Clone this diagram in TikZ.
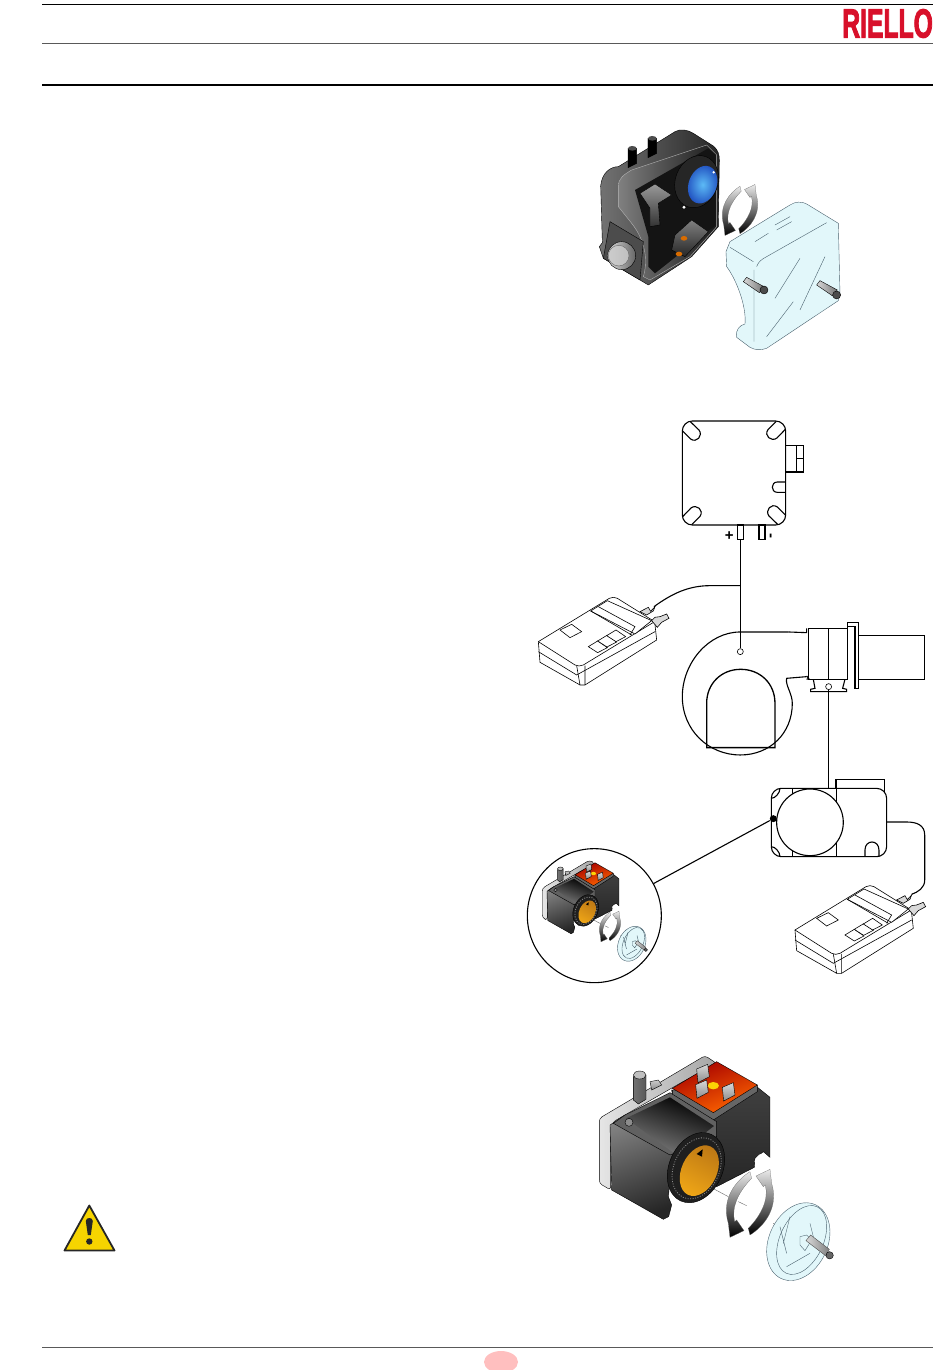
\documentclass[tikz,border=0pt]{standalone}
\usepackage{fontspec}
\setmainfont{Liberation Sans}
\newfontfamily\logofont[FakeBold=3,UprightFont={* Bold}]{Liberation Sans}
\usepackage{color}
\definecolor{logored}{HTML}{D8102A}
\definecolor{capblue}{HTML}{E2F7FA}
\definecolor{amber}{HTML}{EC961A}
\definecolor{signyellow}{HTML}{F6D400}
\definecolor{lenslight}{HTML}{5CBAF6}
\definecolor{lensdark}{HTML}{2050C0}
\tikzset{
    lineart/.style={line width=1.1pt, black},
    capedge/.style={line width=.4pt, black!65!cyan},
    rule/.style={line width=.9pt, black!65},
    turnarrows/.pic={
        \begin{scope}[x=.3333pt, y=-.3333pt]
            \foreach \ang in {0,180}
                \shade[rotate=\ang, top color=black!8, middle color=black!70, bottom color=black, draw=black!60, line width=.2pt]
                    (0,-95) .. controls (-40,-70) and (-88,-15) .. (-65,60) -- (-60,102) -- (-18,82) -- (-40,50) -- (-46,55)
                    .. controls (-58,10) and (-30,-40) .. (5,-75) -- cycle;
        \end{scope}
    },
    manometer/.pic={
        \begin{scope}[x=.3333pt, y=-.3333pt, line width=.6pt]
            \draw[fill=white] (55,695) -- (268,565) .. controls (275,561) and (285,561) .. (292,565) -- (404,635)
                -- (410,690) -- (195,825) -- (180,825) -- (60,757) -- cycle;
            \draw (55,695) -- (165,765) .. controls (172,769) and (182,769) .. (190,765) -- (404,635);
            \draw (55,725) -- (170,795) -- (405,665);
            \draw (170,767) -- (180,825) (195,767) -- (195,825);
            \draw[fill=white] (212,603) -- (262,572) -- (395,632) -- (345,672) -- cycle;
            \draw (212,603) -- (335,675) (235,590) -- (345,650) -- (330,675);
            \foreach \bx/\by in {0/0,28/-17,55/-33}
                \draw[shift={(\bx,\by)}, fill=white] (205,710) -- (233,693) -- (262,713) -- (233,728) -- cycle;
            \draw[fill=white] (120,660) -- (155,643) -- (185,665) -- (150,683) -- cycle;
            \draw[fill=black!15] (360,605) -- (385,592) -- (392,604) -- (405,590) -- (400,603) -- (380,615) -- cycle;
            \draw[fill=black!15] (395,632) -- (405,622) -- (420,620) -- (440,612) -- (447,625) -- (425,637) -- (412,652) -- cycle;
        \end{scope}
    },
    solenoid/.pic={
        \begin{scope}[x=.3333pt, y=-.3333pt, line width=.4pt]
            % back plate
            \shade[left color=black!10, right color=black!35, draw=black, rounded corners=3pt] (88,235) -- (405,47) -- (440,70) -- (330,130)
                -- (130,245) -- (122,265) -- (122,450) -- (88,430) -- cycle;
            \shade[top color=black!20, bottom color=black!45, draw=black] (240,125) -- (265,120) -- (275,135) -- (245,150) -- cycle;
            % stud
            \shade[left color=black!55, middle color=black!5, right color=black!65, draw=black] (190,110) -- (190,180) -- (205,192) -- (228,178) -- (228,105) -- cycle;
            \draw[fill=black!25] (209,105) ellipse [x radius=19, y radius=12];
            % right block
            \shade[top color=black!75, bottom color=black!85, draw=black] (305,150) -- (430,225) -- (560,140) -- (600,172) -- (600,352)
                -- (580,335) -- (555,355) -- (553,382) -- (440,440) -- (330,300) -- cycle;
            % coil top
            \fill[black!60, draw=black] (307,150) -- (307,165) -- (430,240) -- (562,155) -- (562,135) -- cycle;
            \shade[left color=red!65!black, right color=orange!80!red, shading angle=20, draw=black] (307,145) -- (440,65) -- (562,135) -- (430,218) -- cycle;
            \fill[yellow!70!orange] (430,137) ellipse [x radius=17, y radius=11];
            \foreach \tx/\ty in {398/95,395/142,475/150}
                \shade[shift={(\tx,\ty)}, top color=black!15, bottom color=black!45, draw=black] (-18,-8) -- (15,-22) -- (20,15) -- (-14,33) -- cycle;
            % front block
            \shade[left color=black!50, right color=black!85, draw=black, shading angle=20] (120,255) -- (165,225) -- (310,330) -- (295,470)
                -- (305,495) -- (296,530) -- (280,538) -- (125,450) -- cycle;
            % opening and cylinder
            \fill[black!62, draw=black] (130,250) -- (165,225) -- (300,158) -- (440,245) -- (440,290) -- (300,345) -- cycle;
            \shade[left color=black, middle color=black!85, right color=black!50, shading angle=-20] (168,235) -- (300,172) -- (432,258) -- (320,345) -- cycle;
            \fill[black!45, draw=black] (177,247) circle [radius=12];
            % dial
            \fill[black!88, draw=black, rotate around={-25:(378,383)}] (378,383) ellipse [x radius=80, y radius=110];
            \draw[black!45, line width=.8pt, dash pattern=on 1pt off 1.5pt, rotate around={-25:(380,385)}] (380,385) ellipse [x radius=68, y radius=96];
            \shade[left color=amber!80!black, middle color=amber, right color=amber!85!yellow, shading angle=-30, rotate around={-25:(388,392)}] (388,392) ellipse [x radius=53, y radius=80];
            \fill (380,342) -- (398,328) -- (396,350) -- cycle;
            % bottom notch
            \fill[white] (553,365) .. controls (560,345) and (575,335) .. (588,345) -- (585,360) -- cycle;
            \pic[transform shape] at (540,490) {turnarrows};
            % cap
            \draw[black!60] (432,447) -- (475,470) (505,485) -- (530,497) (610,550) -- (690,600);
            \draw[capedge, fill=capblue, rotate around={-25:(685,605)}] (685,605) ellipse [x radius=88, y radius=122];
            \draw[capedge, rotate around={-25:(695,600)}] (695,600) ellipse [x radius=65, y radius=110];
            \draw[capedge] (630,560) -- (650,640) (660,530) -- (640,610) (720,550) -- (735,610) (650,680) -- (720,640);
            \draw[capedge, fill=capblue] (690,590) -- (710,585) -- (725,600) -- (705,632) -- (690,615) -- cycle;
            \shade[left color=black!15, right color=black!50, draw=black!70] (708,602) -- (722,585) -- (778,628) -- (768,648) -- cycle;
            \fill[black!60, draw=black] (779,646) circle [radius=11];
        \end{scope}
    }
}
\begin{document}
\begin{tikzpicture}[x=1pt, y=-1pt]
    \useasboundingbox (0,0) rectangle (950,1370);
    % page rules
    \draw[line width=.9pt, black] (42,4) -- (933,4);
    \draw[rule] (42,43) -- (933,43);
    \draw[line width=1.6pt, black] (42,85) -- (933,85);
    \draw[rule] (42,1347) -- (933,1347);
    \fill[red!25] (501,1362) ellipse [x radius=17, y radius=11];
    \node[anchor=east, inner sep=0pt, text=logored, xscale=.61, transform shape, font=\fontsize{40.5}{40}\selectfont\logofont] (logo) at (933,23.5) {RIELLO};

    % warning sign
    \draw[fill=signyellow, draw=black!85, line width=1.8pt, line join=round] (89.3,1205.5) -- (64.5,1250.5) -- (114.5,1250.5) -- cycle;
    \fill[black!85] (85.8,1221) .. controls (85.8,1217) and (92.8,1217) .. (92.8,1221) -- (90.8,1235) -- (87.8,1235) -- cycle;
    \fill[black!85] (89.3,1241.5) circle [radius=3.2];

    % pressure switch, photo view
    \begin{scope}[shift={(560,110)}, x=.3333pt, y=-.3333pt, line width=.4pt]
        \shade[left color=black!55, middle color=black!80, right color=black!85, draw=black] (122,228) .. controls (125,190) and (150,170) .. (175,170) -- (345,65)
            .. controls (360,55) and (385,60) .. (400,70) -- (460,108) .. controls (475,120) and (478,135) .. (478,150) -- (475,350)
            -- (395,440) -- (265,525) -- (130,445) -- (118,410) -- (127,398) -- cycle;
        \shade[left color=black!50, right color=black!90, draw=black!30] (175,230) .. controls (175,205) and (190,195) .. (215,180) -- (440,105)
            -- (470,135) -- (470,350) -- (390,440) -- (270,510) -- (250,500) .. controls (265,450) and (255,390) .. (215,340) -- (175,290) -- cycle;
        \fill[black!92] (225,240) -- (445,115) -- (468,135) -- (468,345) -- (285,490) -- (265,470) -- (265,380) -- cycle;
        \fill[black!70, draw=black] (150,335) -- (250,395) -- (240,510) -- (130,445) -- cycle;
        \foreach \px/\py in {217/115,277/85}
            \shade[left color=black, middle color=black!55, right color=black, draw=black] (\px-13,\py) -- (\px-13,\py+58) -- (\px+13,\py+45) -- (\px+13,\py) -- cycle;
        \foreach \px/\py in {217/115,277/85}
            \fill[black!70] (\px,\py) ellipse [x radius=13, y radius=7];
        \draw[fill=black!85, rotate around={-20:(410,215)}] (410,215) ellipse [x radius=64, y radius=80];
        \shade[inner color=lenslight, outer color=lensdark, rotate around={-20:(428,224)}] (428,224) ellipse [x radius=42, y radius=58];
        \fill[white] (461,187) circle [radius=4] (372,292) circle [radius=5];
        \shade[top color=black!40, bottom color=black!80, draw=black] (240,250) -- (285,222) -- (335,255) -- (295,280) -- (300,345) -- (270,350) -- (270,295) -- cycle;
        \shade[top color=black!50, bottom color=black!85, draw=black] (345,375) -- (395,330) -- (445,365) -- (375,440) -- (335,420) -- cycle;
        \foreach \px/\py in {372/385,357/432}
            \fill[orange!85!black] (\px,\py) ellipse [x radius=10, y radius=7];
        \shade[left color=black!15, middle color=black!30, right color=black!60, draw=black] (185,437) circle [radius=42];
        \shade[left color=black!20, middle color=white, right color=black!25, draw=black!60] (176,437) circle [radius=31];
        \pic at (540,300) [scale=.75] {turnarrows};
        \draw[capedge, fill=capblue] (510,395) -- (690,285) .. controls (705,275) and (725,272) .. (745,285) -- (835,340) -- (840,550)
            -- (835,572) -- (620,715) .. controls (600,722) and (585,720) .. (570,712) -- (530,682) .. controls (525,660) and (540,645) .. (555,642)
            .. controls (560,590) and (530,510) .. (500,470) -- (498,425) -- cycle;
        \draw[capedge] (590,470) .. controls (595,455) and (605,448) .. (620,440) -- (800,338) (582,480) -- (582,695) (510,412) -- (580,455);
        \draw[capedge] (585,395) -- (625,370) (645,345) -- (690,320) (650,360) -- (695,335) (645,565) -- (720,445) (720,600) -- (795,440) (620,680) -- (700,575);
        \foreach \sx/\sy in {550/510,770/520}
            \shade[shift={(\sx,\sy)}, left color=black!15, right color=black!55, draw=black] (0,5) -- (10,-8) -- (62,20) -- (48,38) -- cycle;
        \foreach \sx/\sy in {612/540,830/555}
            \fill[black!70, draw=black] (\sx,\sy) circle [radius=12];
    \end{scope}

    % pressure switch, plan view
    \begin{scope}[shift={(520,410)}, x=.3333pt, y=-.3333pt, lineart]
        \coordinate (swcentre) at (642,189);
        \draw[rounded corners=10pt] (487,33) rectangle (797,345);
        \foreach \ang in {0,90,180,270}
            \draw[rotate around={\ang:(swcentre)}] (510,34) -- (537,60) .. controls (550,77) and (530,100) .. (512,87) -- (487,62);
        \draw (797,106) -- (850,106) -- (850,186) -- (797,186) (830,106) -- (830,186) (830,145) -- (850,145);
        \draw (797,216) -- (772,216) .. controls (752,216) and (752,247) .. (772,247) -- (797,247);
        \draw (652,345) rectangle (671,388) (717,345) rectangle (735,388);
        \coordinate (plusport) at (661,388);
        \coordinate (tee) at (661,527);
        \coordinate (fantap) at (661,725);
        \node[font=\bfseries\fontsize{15}{15}\selectfont, inner sep=0pt] (pluslabel) at (628,378) {+};
        \node[font=\bfseries\fontsize{15}{15}\selectfont, inner sep=0pt, rotate=90] (minuslabel) at (757,379) {-};

        % fan housing
        \draw (806,666) -- (661,666) .. controls (565,666) and (487,760) .. (487,860)
            .. controls (487,960) and (565,1035) .. (661,1035) .. controls (750,1035) and (817,970) .. (817,880)
            .. controls (817,850) and (795,825) .. (800,805) -- (860,800);
        \draw (860,655) -- (860,668) -- (806,666);
        \draw[line width=1.3pt] (560,1013) -- (560,880) .. controls (560,820) and (605,778) .. (662,778) .. controls (720,778) and (765,820) .. (765,880) -- (765,1013) -- cycle;
        \node[circle, draw, line width=.6pt, minimum size=6pt, inner sep=0pt] (fanport) at (fantap) {};
        \draw (plusport) -- (fanport);

        % burner head
        \draw (866,655) rectangle (983,808) (925,655) -- (925,808);
        \draw (860,798) -- (866,805) -- (860,808);
        \draw (983,655) -- (983,637) -- (1016,637) -- (1016,835) -- (1005,835) -- (1005,650) -- (983,650);
        \draw (1016,676) -- (1213,676) -- (1213,808) -- (1016,808);
        \draw (880,808) -- (885,835) -- (872,838) -- (872,845) -- (980,845) -- (980,838) -- (968,835) -- (975,808);
        \node[circle, draw, line width=.6pt, minimum size=6pt, inner sep=0pt] (headport) at (926,830) {};

        \pic at (0,0) {manometer};
        \coordinate (nipplea) at (402,590);
    \end{scope}
    \draw[lineart] (tee) -- ++(-30,0) .. controls ++(-22,0) and ++(18,-13) .. (nipplea);

    % gas pressure switch, plan view
    \begin{scope}[shift={(520,760)}, x=.3333pt, y=-.3333pt, lineart]
        \draw[rounded corners=10pt] (754,85) rectangle (1100,290);
        \draw (817,85) -- (817,290) (950,85) -- (950,290);
        \draw (754,115) .. controls (765,115) and (780,100) .. (780,85) (754,260) .. controls (765,260) and (780,275) .. (780,290);
        \draw[fill=white] (870,187) circle [radius=100];
        \draw (948,85) -- (948,58) -- (1093,58) -- (1093,100);
        \draw (1035,290) -- (1035,270) .. controls (1035,238) and (1077,238) .. (1077,270) -- (1077,290);
        \coordinate (gasinlet) at (926,85);
        \coordinate (gasoutlet) at (1100,186);
        \node[circle, fill=black, minimum size=7pt, inner sep=0pt] (gasdot) at (760,176) {};
        \node[circle, draw, line width=1.1pt, minimum size=134pt, inner sep=0pt] (detail) at (223,467) {};
        \draw (gasdot) -- (detail);
        \pic at (770,-185) {manometer};
        \coordinate (nippleb) at (1175,403);
    \end{scope}
    \draw[lineart] (headport) -- (gasinlet);
    \draw[lineart] (gasoutlet) -- ++(20,0) .. controls ++(10,0) and ++(0,-10) .. (924.7,835) -- (924.7,880) .. controls (924.7,888) and (918,892) .. (nippleb);

    % solenoid, large and detail
    \pic at (570,1040) {solenoid};
    \pic at (529,853) [scale=.45] {solenoid};
\end{tikzpicture}
\end{document}
